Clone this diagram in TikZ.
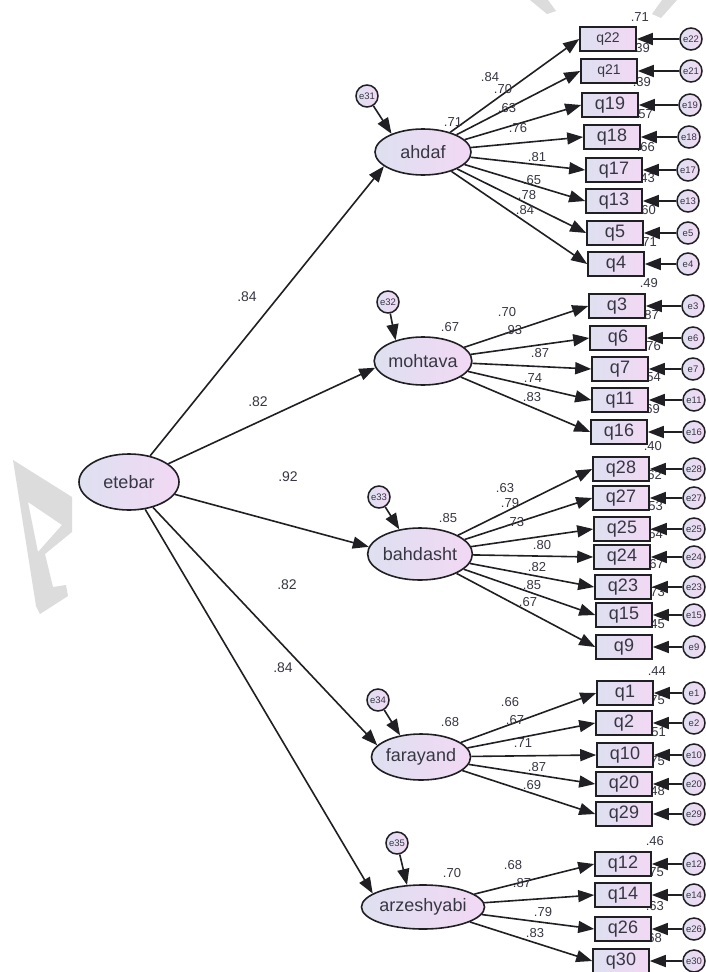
\documentclass[tikz,border=0pt]{standalone}
\usepackage{fontspec}
\setmainfont{Liberation Sans}
\usetikzlibrary{shapes.geometric,arrows.meta}
\pgfdeclarelayer{bg}
\pgfsetlayers{bg,main}
\definecolor{fillL}{RGB}{222,224,240}
\definecolor{fillR}{RGB}{242,216,244}
\definecolor{ink}{RGB}{32,32,36}
\definecolor{txt}{RGB}{55,55,68}
\definecolor{wm}{RGB}{220,220,220}
\tikzset{
  obs/.style={draw=ink, line width=1.6pt, rectangle, minimum width=56pt, minimum height=24pt, inner sep=0pt, left color=fillL, right color=fillR, text=txt},
  lat/.style={draw=ink, line width=1.6pt, ellipse, inner sep=0pt, left color=fillL, right color=fillR, text=txt, font=\fontsize{18}{18}\selectfont},
  err/.style={draw=ink, line width=1.5pt, circle, minimum size=22pt, inner sep=0pt, left color=fillL, right color=fillR, text=txt, font=\fontsize{9.5}{9.5}\selectfont},
  arr/.style={draw=ink, line width=1.6pt, -{Triangle[length=16pt,width=12pt]}},
  lab/.style={font=\fontsize{13}{13}\selectfont, text=txt, inner sep=0pt},
  slab/.style={font=\fontsize{14}{14}\selectfont, text=txt, inner sep=0pt},
}
\begin{document}
\begin{tikzpicture}[x=1pt,y=-1pt]
\useasboundingbox (0,0) rectangle (706,972);
\begin{pgfonlayer}{bg}
\fill[white] (0,0) rectangle (706,972);
% watermark
\fill[wm, even odd rule] (13,460) -- (72,497) -- (72,532) -- (45,554) -- (53,587) -- (66,585) -- (68,596) -- (40,614) -- (36,606) -- cycle
  (28,502) -- (62,525) -- (38,552) -- cycle;
\fill[wm] (530,0) -- (548,0) -- (556,11) -- (547,14) -- cycle;
\fill[wm] (662,0) -- (677,0) -- (661,18) -- (652,14) -- cycle;
\end{pgfonlayer}

% latent variables
\node[lat, minimum width=100pt, minimum height=56pt] (etebar) at (129,482) {etebar};
\node[lat, minimum width=96pt, minimum height=46pt] (ahdaf) at (423,152) {ahdaf};
\node[lat, minimum width=92pt, minimum height=48pt] (mohtava) at (423,361) {mohtava};
\node[lat, minimum width=96pt, minimum height=52pt] (bahdasht) at (420,554) {bahdasht};
\node[lat, minimum width=98pt, minimum height=46pt] (farayand) at (421,757) {farayand};
\node[lat, minimum width=100pt, minimum height=44pt] (arzeshyabi) at (423,907) {arzeshyabi};

% latent residuals
\node[err] (e31) at (367,96) {e31};
\node[err] (e32) at (388,302) {e32};
\node[err] (e33) at (379,497) {e33};
\node[err] (e34) at (378,700) {e34};
\node[err] (e35) at (397,843) {e35};
\draw[arr] (e31) -- (ahdaf.150);
\draw[arr] (e32) -- (mohtava.143);
\draw[arr] (e33) -- (bahdasht.130);
\draw[arr] (e34) -- (farayand.134);
\draw[arr] (e35) -- (arzeshyabi.126);

% structural paths
\draw[arr] (etebar) -- (ahdaf.200);
\draw[arr] (etebar) -- (mohtava.188);
\draw[arr] (etebar) -- (bahdasht.172);
\draw[arr] (etebar) -- (farayand.165);
\draw[arr] (etebar) -- (arzeshyabi.165);

% indicators
\foreach \q/\x/\y/\r/\e/\ex/\s in {
  q22/608/39/.71/e22/691/14, q21/609/71/.39/e21/691/14, q19/610/105/.39/e19/690/18,
  q18/612/137/.57/e18/689/18, q17/614/170/.66/e17/688/18, q13/614/201/.43/e13/688/18,
  q5/615/233/.60/e5/688/18, q4/616/264/.71/e4/688/18,
  q3/617/306/.49/e3/693/18, q6/618/338/.87/e6/693/18, q7/620/369/.76/e7/693/18,
  q11/620/400/.54/e11/694/18, q16/619/432/.69/e16/694/18,
  q28/621/469/.40/e28/694/18, q27/621/498/.62/e27/694/18, q25/622/529/.53/e25/694/18,
  q24/622/557/.64/e24/694/18, q23/623/587/.67/e23/694/18, q15/624/615/.73/e15/694/18,
  q9/624/647/.45/e9/694/18,
  q1/625/693/.44/e1/694/18, q2/624/723/.75/e2/694/18, q10/625/755/.51/e10/694/18,
  q20/624/784/.75/e20/694/18, q29/624/814/.48/e29/694/18,
  q12/623/864/.46/e12/694/18, q14/623/895/.75/e14/694/18, q26/623/929/.63/e26/694/18,
  q30/621/961/.68/e30/694/18}{
  \node[obs, font=\fontsize{\s}{\s}\selectfont] (\q) at (\x,\y) {\q};
  \node[err] (\e) at (\ex,\y) {\e};
  \draw[arr] (\e) -- (\q.east);
  \begin{pgfonlayer}{bg}
    \node[lab, above=5pt, xshift=3pt] (r\q) at (\q.north east) {\r};
  \end{pgfonlayer}
}

% loadings
\foreach \q in {q22,q21,q19,q18,q17,q13,q5,q4}
  \draw[arr] (ahdaf) -- (\q.west);
\foreach \q in {q3,q6,q7,q11,q16}
  \draw[arr] (mohtava) -- (\q.west);
\foreach \q in {q28,q27,q25,q24,q23,q15,q9}
  \draw[arr] (bahdasht) -- (\q.west);
\foreach \q in {q1,q2,q10,q20,q29}
  \draw[arr] (farayand) -- (\q.west);
\foreach \q in {q12,q14,q26,q30}
  \draw[arr] (arzeshyabi) -- (\q.west);

% loading labels
\foreach \t/\x/\y [count=\i] in {
  .84/490/77, .70/503/89, .63/507/108, .76/518/128, .81/537/157, .65/532/180, .78/527/195, .84/525/210,
  .70/507/312, .93/513/330, .87/540/353, .74/533/378, .83/532/397,
  .63/505/488, .79/510/503, .73/515/522, .80/542/545, .82/537/567, .85/532/585, .67/528/602,
  .66/510/702, .67/515/720, .71/523/743, .87/537/767, .69/532/785,
  .68/513/865, .87/522/883, .79/543/912, .83/535/933}
  \node[lab] (ld\i) at (\x,\y) {\t};

% latent R2
\foreach \t/\x/\y [count=\i] in {.71/453/122, .67/450/327, .85/448/518, .68/450/722, .70/452/873}
  \node[lab] (lr\i) at (\x,\y) {\t};

% structural labels
\foreach \t/\x/\y [count=\i] in {.84/247/297, .82/258/402, .92/288/477, .82/287/585, .84/283/668}
  \node[slab] (ls\i) at (\x,\y) {\t};
\end{tikzpicture}
\end{document}
